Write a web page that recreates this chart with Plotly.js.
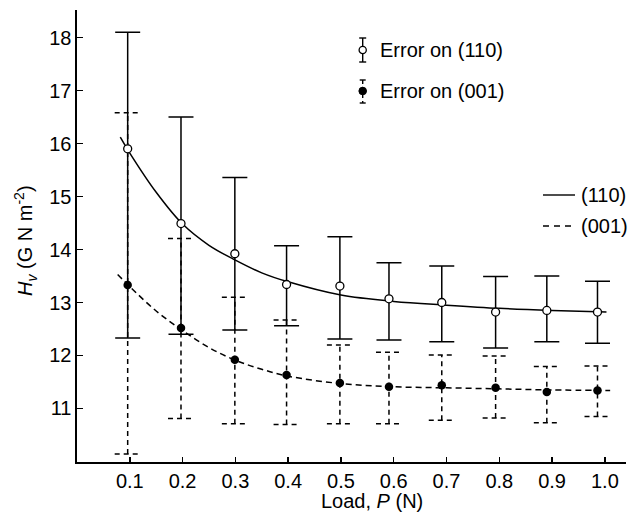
<!DOCTYPE html>
<html>
<head>
<meta charset="utf-8">
<script src="https://cdn.plot.ly/plotly-3.0.1.min.js"></script>
<style>
  html, body { margin: 0; padding: 0; background: #fff; }
  #chart { width: 628px; height: 512px; }
</style>
</head>
<body>
<div id="chart"></div>
<script>
// ---- data ----
const xLoad  = [0.096, 0.197, 0.299, 0.397, 0.498, 0.591, 0.691, 0.793, 0.890, 0.986];
const hv110  = [15.90, 14.49, 13.92, 13.34, 13.31, 13.07, 13.00, 12.82, 12.85, 12.82];
const hi110  = [18.10, 16.50, 15.36, 14.07, 14.24, 13.75, 13.69, 13.49, 13.50, 13.40];
const lo110  = [12.33, 12.40, 12.48, 12.56, 12.31, 12.29, 12.26, 12.14, 12.26, 12.23];
const hv001  = [13.33, 12.52, 11.92, 11.63, 11.48, 11.41, 11.44, 11.39, 11.31, 11.34];
const hi001  = [16.58, 14.21, 13.10, 12.67, 12.20, 12.06, 12.01, 11.99, 11.79, 11.80];
const lo001  = [10.14, 10.81, 10.71, 10.70, 10.71, 10.71, 10.78, 10.82, 10.73, 10.85];
const fitX110 = [0.082, 0.10, 0.15, 0.20, 0.25, 0.30, 0.35, 0.40, 0.50, 0.60, 0.70, 0.80, 0.90, 1.003];
const fitY110 = [16.12, 15.82, 15.08, 14.48, 14.08, 13.80, 13.56, 13.39, 13.14, 13.02, 12.95, 12.89, 12.85, 12.82];
const fitX001 = [0.077, 0.10, 0.15, 0.20, 0.25, 0.30, 0.35, 0.40, 0.50, 0.60, 0.70, 0.80, 0.90, 1.01];
const fitY001 = [13.53, 13.30, 12.84, 12.47, 12.15, 11.91, 11.74, 11.61, 11.47, 11.41, 11.39, 11.37, 11.35, 11.34];
const xTicks = [0.1, 0.2, 0.3, 0.4, 0.5, 0.6, 0.7, 0.8, 0.9, 1.0];
const yTicks = [11, 12, 13, 14, 15, 16, 17, 18];
const legendErr = ['Error on (110)', 'Error on (001)'];
const legendFit = ['(110)', '(001)'];
const xTitle = 'Load, <i>P</i> (N)';
const yTitle = '<i>H</i><sub><i>v</i></sub> (G N m<sup>-2</sup>)';

// ---- layout geometry ----
const W = 628, H = 512;
const M = {l: 77, r: 2, t: 10, b: 50};
const PW = W - M.l - M.r, PH = H - M.t - M.b;
const px = v => (v - M.l) / PW;          // pixel -> paper x
const py = v => (H - M.b - v) / PH;      // pixel -> paper y
const FONT = '"Liberation Sans", Arial, Helvetica, sans-serif';
const CAP = 0.0246; // dashed cap half-width in x units

// dashed error bars for (001), built from the arrays
const ebX = [], ebY = [];
xLoad.forEach((x, i) => {
  ebX.push(x, x, null, x - CAP, x + CAP, null, x - CAP, x + CAP, null);
  ebY.push(lo001[i], hi001[i], null, hi001[i], hi001[i], null, lo001[i], lo001[i], null);
});

const traces = [
  {x: fitX110, y: fitY110, mode: 'lines', line: {color: '#000', width: 1.5, shape: 'spline', smoothing: 1}},
  {x: fitX001, y: fitY001, mode: 'lines', line: {color: '#000', width: 1.5, dash: '6px,4px', shape: 'spline', smoothing: 1}},
  {x: ebX, y: ebY, mode: 'lines', line: {color: '#000', width: 1.5, dash: '5px,4px'}},
  {x: xLoad, y: hv110, mode: 'markers',
   marker: {symbol: 'circle', size: 8, color: '#fff', line: {color: '#000', width: 1.3}},
   error_y: {type: 'data', symmetric: false,
             array: hi110.map((h, i) => h - hv110[i]),
             arrayminus: lo110.map((l, i) => hv110[i] - l),
             color: '#000', thickness: 1.5, width: 12.5}},
  {x: xLoad, y: hv001, mode: 'markers',
   marker: {symbol: 'circle', size: 8.5, color: '#000', line: {color: '#000', width: 0}}}
];

// legend (drawn manually)
const shapes = [];
const annotations = [];
const lx = 362.7;
// row 1: open circle with solid error bar
shapes.push({type: 'line', xref: 'paper', yref: 'paper', x0: px(lx), x1: px(lx), y0: py(38), y1: py(62), line: {color: '#000', width: 1.4}});
shapes.push({type: 'line', xref: 'paper', yref: 'paper', x0: px(lx - 3.5), x1: px(lx + 3.5), y0: py(38), y1: py(38), line: {color: '#000', width: 1.4}});
shapes.push({type: 'line', xref: 'paper', yref: 'paper', x0: px(lx - 3.5), x1: px(lx + 3.5), y0: py(62), y1: py(62), line: {color: '#000', width: 1.4}});
shapes.push({type: 'circle', xref: 'paper', yref: 'paper', x0: px(lx - 3.6), x1: px(lx + 3.6), y0: py(46.4), y1: py(53.6), fillcolor: '#fff', line: {color: '#000', width: 1.3}});
// row 2: filled circle with dashed error bar
shapes.push({type: 'line', xref: 'paper', yref: 'paper', x0: px(lx), x1: px(lx), y0: py(80), y1: py(103), line: {color: '#000', width: 1.4, dash: '4px,3px'}});
shapes.push({type: 'line', xref: 'paper', yref: 'paper', x0: px(lx - 3), x1: px(lx + 3), y0: py(80), y1: py(80), line: {color: '#000', width: 1.4}});
shapes.push({type: 'line', xref: 'paper', yref: 'paper', x0: px(lx - 3), x1: px(lx + 3), y0: py(103), y1: py(103), line: {color: '#000', width: 1.4}});
shapes.push({type: 'circle', xref: 'paper', yref: 'paper', x0: px(lx - 3.8), x1: px(lx + 3.8), y0: py(87.2), y1: py(94.8), fillcolor: '#000', line: {color: '#000', width: 1}});
// fit legend samples
shapes.push({type: 'line', xref: 'paper', yref: 'paper', x0: px(543), x1: px(575), y0: py(195), y1: py(195), line: {color: '#000', width: 1.4}});
shapes.push({type: 'line', xref: 'paper', yref: 'paper', x0: px(543), x1: px(575), y0: py(226), y1: py(226), line: {color: '#000', width: 1.4, dash: '6px,5px'}});

const lblFont = {family: FONT, size: 20, color: '#000'};
[[legendErr[0], 379, 50], [legendErr[1], 379, 91], [legendFit[0], 580, 195], [legendFit[1], 580, 226]].forEach(([t, x, y]) => {
  annotations.push({text: t, xref: 'paper', yref: 'paper', x: px(x), y: py(y), xanchor: 'left', yanchor: 'middle', showarrow: false, font: lblFont, borderpad: 0});
});
// axis titles
annotations.push({text: xTitle, xref: 'paper', yref: 'paper', x: px(371.7), y: py(501), xanchor: 'center', yanchor: 'middle', showarrow: false, font: lblFont, borderpad: 0});
annotations.push({text: yTitle, xref: 'paper', yref: 'paper', x: px(25), y: py(241), xanchor: 'center', yanchor: 'middle', textangle: -90, showarrow: false, font: lblFont});

const axisCommon = {
  showline: true, linecolor: '#000', linewidth: 1.6, mirror: false,
  ticks: 'inside', ticklen: 5.5, tickwidth: 1.5, tickcolor: '#000',
  showgrid: false, zeroline: false,
  tickfont: {family: FONT, size: 20, color: '#000'}
};

const layout = {
  width: W, height: H,
  margin: M,
  paper_bgcolor: '#fff', plot_bgcolor: '#fff',
  showlegend: false,
  font: {family: FONT, color: '#000'},
  xaxis: Object.assign({}, axisCommon, {range: [0, 1.04], tickmode: 'array', tickvals: xTicks, ticktext: xTicks.map(v => v.toFixed(1))}),
  yaxis: Object.assign({}, axisCommon, {range: [9.99, 18.52], tickmode: 'array', tickvals: yTicks, ticktext: yTicks.map(String)}),
  shapes: shapes,
  annotations: annotations
};

Plotly.newPlot('chart', traces, layout, {displayModeBar: false, staticPlot: true});
</script>
</body>
</html>
